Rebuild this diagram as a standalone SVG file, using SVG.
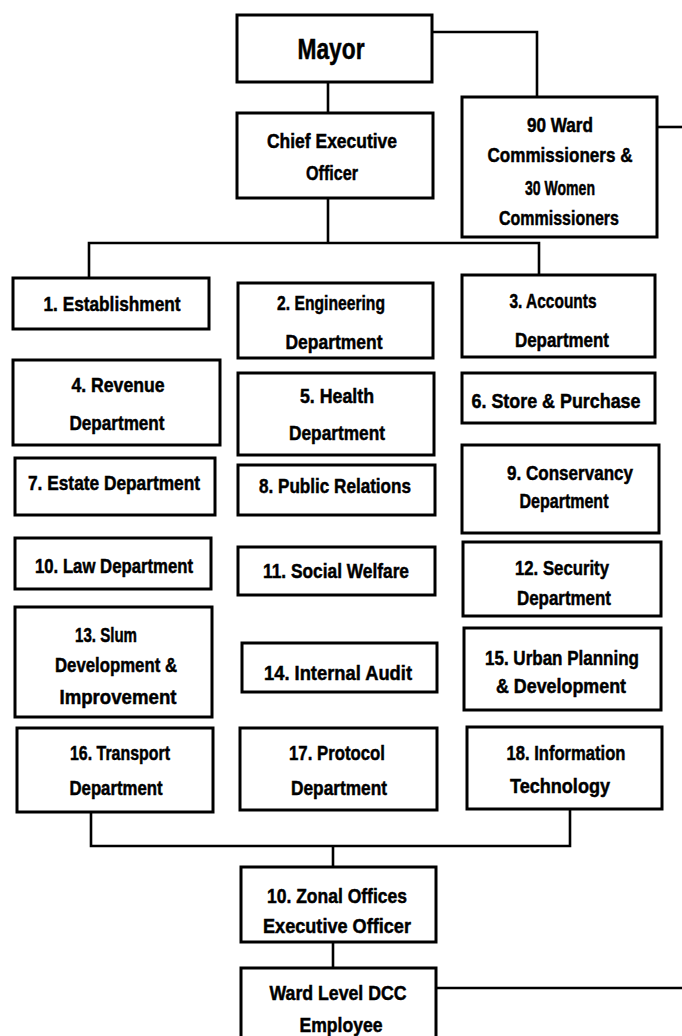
<svg xmlns="http://www.w3.org/2000/svg" width="682" height="1036" viewBox="0 0 682 1036">
<style>
.box{fill:#fff;stroke:#000;stroke-width:3}
.c{fill:none;stroke:#000;stroke-width:2.6}
text{font-family:"Liberation Sans Narrow","Liberation Sans",Arial,sans-serif;font-weight:bold;font-size:21px;text-anchor:middle;fill:#000;stroke:#000;stroke-width:0.5}
.big{font-size:29px}
</style>
<rect width="682" height="1036" fill="#fff"/>
<g id="connectors">
<path class="c" d="M432,32 H537 V97"/>
<path class="c" d="M328,82 V113"/>
<path class="c" d="M328,198 V243"/>
<path class="c" d="M89,278 V243 H539 V275"/>
<path class="c" d="M657,127 H682"/>
<path class="c" d="M91,812 V846 H570 V809"/>
<path class="c" d="M333,846 V867"/>
<path class="c" d="M333,942 V968"/>
<path class="c" d="M436,988 H682"/>
<path class="c" d="M259,1034 H289 V1030"/>
<path class="c" d="M396,1034 H426"/>
</g>
<g id="mayor"><rect class="box" x="237" y="15" width="195" height="67"/><text class="big" x="331" y="59" textLength="67" lengthAdjust="spacingAndGlyphs">Mayor</text></g>
<g id="ceo"><rect class="box" x="237" y="113" width="196" height="85"/><text x="332" y="148" textLength="130" lengthAdjust="spacingAndGlyphs">Chief Executive</text><text x="332" y="180" textLength="52" lengthAdjust="spacingAndGlyphs">Officer</text></g>
<g id="commissioners"><rect class="box" x="462" y="97" width="195" height="140"/><text x="560" y="132" textLength="66" lengthAdjust="spacingAndGlyphs">90 Ward</text><text x="560" y="162" textLength="145" lengthAdjust="spacingAndGlyphs">Commissioners &amp;</text><text x="560" y="195" textLength="70" lengthAdjust="spacingAndGlyphs">30 Women</text><text x="559" y="225" textLength="120" lengthAdjust="spacingAndGlyphs">Commissioners</text></g>
<g id="d1"><rect class="box" x="13" y="278" width="196" height="51"/><text x="112" y="311" textLength="137" lengthAdjust="spacingAndGlyphs">1. Establishment</text></g>
<g id="d2"><rect class="box" x="238" y="283" width="195" height="75"/><text x="331" y="310" textLength="108" lengthAdjust="spacingAndGlyphs">2. Engineering</text><text x="334" y="349" textLength="97" lengthAdjust="spacingAndGlyphs">Department</text></g>
<g id="d3"><rect class="box" x="462" y="275" width="193" height="82"/><text x="553" y="308" textLength="87" lengthAdjust="spacingAndGlyphs">3. Accounts</text><text x="562" y="347" textLength="94" lengthAdjust="spacingAndGlyphs">Department</text></g>
<g id="d4"><rect class="box" x="13" y="360" width="207" height="85"/><text x="118" y="392" textLength="93" lengthAdjust="spacingAndGlyphs">4. Revenue</text><text x="117" y="430" textLength="95" lengthAdjust="spacingAndGlyphs">Department</text></g>
<g id="d5"><rect class="box" x="238" y="373" width="196" height="82"/><text x="337" y="403" textLength="74" lengthAdjust="spacingAndGlyphs">5. Health</text><text x="337" y="440" textLength="96" lengthAdjust="spacingAndGlyphs">Department</text></g>
<g id="d6"><rect class="box" x="462" y="373" width="193" height="50"/><text x="556" y="408" textLength="169" lengthAdjust="spacingAndGlyphs">6. Store &amp; Purchase</text></g>
<g id="d7"><rect class="box" x="15" y="458" width="200" height="57"/><text x="114" y="490" textLength="172" lengthAdjust="spacingAndGlyphs">7. Estate Department</text></g>
<g id="d8"><rect class="box" x="238" y="465" width="197" height="50"/><text x="335" y="493" textLength="152" lengthAdjust="spacingAndGlyphs">8. Public Relations</text></g>
<g id="d9"><rect class="box" x="462" y="445" width="197" height="88"/><text x="570" y="480" textLength="126" lengthAdjust="spacingAndGlyphs">9. Conservancy</text><text x="564" y="508" textLength="89" lengthAdjust="spacingAndGlyphs">Department</text></g>
<g id="d10"><rect class="box" x="15" y="538" width="196" height="51"/><text x="114" y="573" textLength="158" lengthAdjust="spacingAndGlyphs">10. Law Department</text></g>
<g id="d11"><rect class="box" x="238" y="547" width="197" height="48"/><text x="336" y="578" textLength="146" lengthAdjust="spacingAndGlyphs">11. Social Welfare</text></g>
<g id="d12"><rect class="box" x="463" y="542" width="198" height="74"/><text x="562" y="575" textLength="94" lengthAdjust="spacingAndGlyphs">12. Security</text><text x="564" y="605" textLength="94" lengthAdjust="spacingAndGlyphs">Department</text></g>
<g id="d13"><rect class="box" x="15" y="607" width="197" height="110"/><text x="106" y="642" textLength="62" lengthAdjust="spacingAndGlyphs">13. Slum</text><text x="116" y="672" textLength="122" lengthAdjust="spacingAndGlyphs">Development &amp;</text><text x="118" y="704" textLength="117" lengthAdjust="spacingAndGlyphs">Improvement</text></g>
<g id="d14"><rect class="box" x="242" y="643" width="195" height="49"/><text x="338" y="680" textLength="148" lengthAdjust="spacingAndGlyphs">14. Internal Audit</text></g>
<g id="d15"><rect class="box" x="464" y="628" width="197" height="82"/><text x="562" y="665" textLength="154" lengthAdjust="spacingAndGlyphs">15. Urban Planning</text><text x="561" y="693" textLength="130" lengthAdjust="spacingAndGlyphs">&amp; Development</text></g>
<g id="d16"><rect class="box" x="17" y="728" width="196" height="84"/><text x="120" y="760" textLength="100" lengthAdjust="spacingAndGlyphs">16. Transport</text><text x="116" y="795" textLength="93" lengthAdjust="spacingAndGlyphs">Department</text></g>
<g id="d17"><rect class="box" x="240" y="728" width="197" height="82"/><text x="337" y="760" textLength="96" lengthAdjust="spacingAndGlyphs">17. Protocol</text><text x="339" y="795" textLength="96" lengthAdjust="spacingAndGlyphs">Department</text></g>
<g id="d18"><rect class="box" x="467" y="727" width="195" height="82"/><text x="566" y="760" textLength="119" lengthAdjust="spacingAndGlyphs">18. Information</text><text x="560" y="793" textLength="100" lengthAdjust="spacingAndGlyphs">Technology</text></g>
<g id="zonal"><rect class="box" x="241" y="867" width="195" height="75"/><text x="337" y="903" textLength="140" lengthAdjust="spacingAndGlyphs">10. Zonal Offices</text><text x="337" y="933" textLength="148" lengthAdjust="spacingAndGlyphs">Executive Officer</text></g>
<g id="ward"><rect class="box" x="241" y="968" width="195" height="80"/><text x="338" y="1000" textLength="137" lengthAdjust="spacingAndGlyphs">Ward Level DCC</text><text x="341" y="1032" textLength="83" lengthAdjust="spacingAndGlyphs">Employee</text></g>
</svg>
